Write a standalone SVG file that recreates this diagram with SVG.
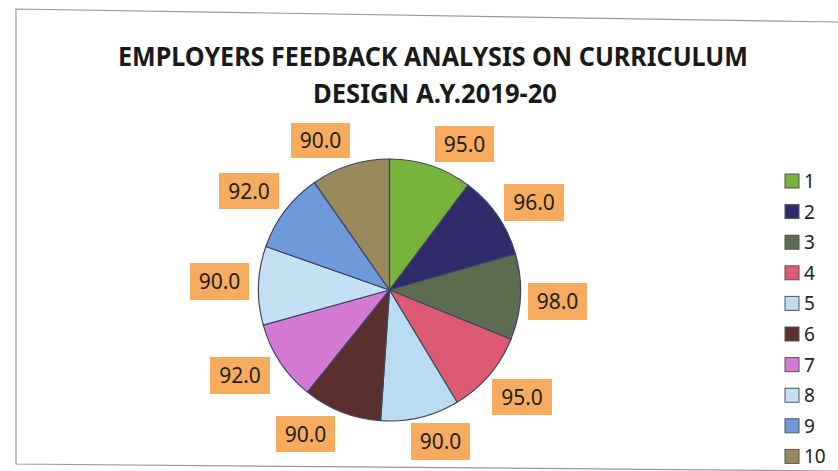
<svg xmlns="http://www.w3.org/2000/svg" width="838" height="471" viewBox="0 0 838 471">
<style>
.title{font-family:"Noto Sans","Open Sans","DejaVu Sans",sans-serif;font-weight:bold;font-size:27px;fill:#1a1a1a}
.slice{stroke:#3c4766;stroke-width:1.2}
.lbox{fill:#f7ab5f}
.ltxt{font-family:"Noto Sans","Open Sans",sans-serif;font-size:21px;fill:#222;text-anchor:middle}
.leg{font-family:"Noto Sans","Open Sans",sans-serif;font-size:19px;fill:#222}
.lsq{stroke:#555;stroke-width:1}
.frame{fill:none;stroke:#9a9a9a;stroke-width:1.2}
</style>
<rect width="838" height="471" fill="#ffffff"/>
<polyline class="frame" points="838,22 16,9 16,464 838,471"/>
<g id="title">
<text class="title" x="118" y="66" textLength="630" lengthAdjust="spacingAndGlyphs">EMPLOYERS FEEDBACK ANALYSIS ON CURRICULUM</text>
<text class="title" x="313" y="103" textLength="244" lengthAdjust="spacingAndGlyphs">DESIGN A.Y.2019-20</text>
</g>
<g id="pie">
<path id="slice1" class="slice" fill="#78b43c" d="M389.5,290 L389.5,159 A131,131 0 0 1 468.1,185.2 Z"/>
<path id="slice2" class="slice" fill="#2f2b6b" d="M389.5,290 L468.1,185.2 A131,131 0 0 1 515.5,254.1 Z"/>
<path id="slice3" class="slice" fill="#5d6b4f" d="M389.5,290 L515.5,254.1 A131,131 0 0 1 510.9,339.3 Z"/>
<path id="slice4" class="slice" fill="#dc5a72" d="M389.5,290 L510.9,339.3 A131,131 0 0 1 457.1,402.2 Z"/>
<path id="slice5" class="slice" fill="#b9dcf1" d="M389.5,290 L457.1,402.2 A131,131 0 0 1 380.6,420.7 Z"/>
<path id="slice6" class="slice" fill="#5a2f2d" d="M389.5,290 L380.6,420.7 A131,131 0 0 1 307.4,392.1 Z"/>
<path id="slice7" class="slice" fill="#d57ad3" d="M389.5,290 L307.4,392.1 A131,131 0 0 1 263.3,325.1 Z"/>
<path id="slice8" class="slice" fill="#c6e0f3" d="M389.5,290 L263.3,325.1 A131,131 0 0 1 265.9,246.5 Z"/>
<path id="slice9" class="slice" fill="#6f9ad9" d="M389.5,290 L265.9,246.5 A131,131 0 0 1 314.5,182.6 Z"/>
<path id="slice10" class="slice" fill="#988a5c" d="M389.5,290 L314.5,182.6 A131,131 0 0 1 389.5,159 Z"/>
</g>
<g id="labels">
<g id="label1"><rect class="lbox" x="435" y="126" width="59" height="36"/><text class="ltxt" x="464.5" y="151.5">95.0</text></g>
<g id="label2"><rect class="lbox" x="504" y="184" width="60" height="37"/><text class="ltxt" x="534" y="210">96.0</text></g>
<g id="label3"><rect class="lbox" x="528" y="283" width="59" height="37"/><text class="ltxt" x="557.5" y="309">98.0</text></g>
<g id="label4"><rect class="lbox" x="492" y="379" width="60" height="36"/><text class="ltxt" x="522" y="404.5">95.0</text></g>
<g id="label5"><rect class="lbox" x="411" y="423" width="59" height="37"/><text class="ltxt" x="440.5" y="449">90.0</text></g>
<g id="label6"><rect class="lbox" x="276" y="416" width="59" height="36"/><text class="ltxt" x="305.5" y="441.5">90.0</text></g>
<g id="label7"><rect class="lbox" x="210" y="357" width="60" height="37"/><text class="ltxt" x="240" y="383">92.0</text></g>
<g id="label8"><rect class="lbox" x="190" y="263" width="59" height="37"/><text class="ltxt" x="219.5" y="289">90.0</text></g>
<g id="label9"><rect class="lbox" x="219" y="173" width="60" height="36"/><text class="ltxt" x="249" y="198.5">92.0</text></g>
<g id="label10"><rect class="lbox" x="291" y="123" width="59" height="35"/><text class="ltxt" x="320.5" y="148">90.0</text></g>
</g>
<g id="legend">
<g id="leg1"><rect class="lsq" x="785" y="174" width="14" height="14" fill="#78b43c"/><text class="leg" x="804" y="188">1</text></g>
<g id="leg2"><rect class="lsq" x="785" y="204.6" width="14" height="14" fill="#2f2b6b"/><text class="leg" x="804" y="218.6">2</text></g>
<g id="leg3"><rect class="lsq" x="785" y="235.2" width="14" height="14" fill="#5d6b4f"/><text class="leg" x="804" y="249.2">3</text></g>
<g id="leg4"><rect class="lsq" x="785" y="265.8" width="14" height="14" fill="#dc5a72"/><text class="leg" x="804" y="279.8">4</text></g>
<g id="leg5"><rect class="lsq" x="785" y="296.4" width="14" height="14" fill="#b9dcf1"/><text class="leg" x="804" y="310.4">5</text></g>
<g id="leg6"><rect class="lsq" x="785" y="327" width="14" height="14" fill="#5a2f2d"/><text class="leg" x="804" y="341">6</text></g>
<g id="leg7"><rect class="lsq" x="785" y="357.6" width="14" height="14" fill="#d57ad3"/><text class="leg" x="804" y="371.6">7</text></g>
<g id="leg8"><rect class="lsq" x="785" y="388.2" width="14" height="14" fill="#c6e0f3"/><text class="leg" x="804" y="402.2">8</text></g>
<g id="leg9"><rect class="lsq" x="785" y="418.8" width="14" height="14" fill="#6f9ad9"/><text class="leg" x="804" y="432.8">9</text></g>
<g id="leg10"><rect class="lsq" x="785" y="449.4" width="14" height="14" fill="#988a5c"/><text class="leg" x="804" y="463.4">10</text></g>
</g>
</svg>
